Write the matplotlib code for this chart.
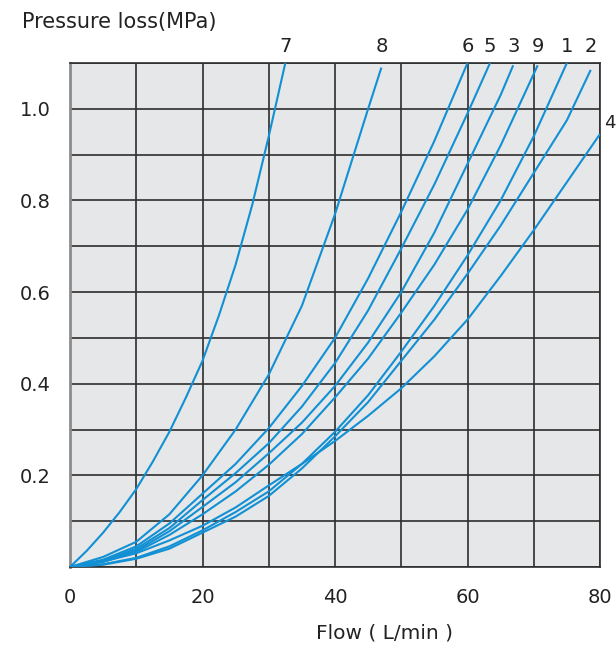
import matplotlib
matplotlib.use("Agg")
import matplotlib.pyplot as plt

# flow (L/min) and pressure loss (MPa), one pair per curve
flow_7 = [0, 2.5, 5, 7.5, 10, 12.5, 15, 17.5, 20, 22.5, 25, 27.5, 30, 32.5]
loss_7 = [0, 0.035, 0.075, 0.12, 0.17, 0.23, 0.295, 0.37, 0.45, 0.55, 0.66, 0.79, 0.94, 1.1]

flow_8 = [0, 5, 10, 15, 20, 25, 30, 32.5, 35, 37.5, 40, 42.5, 45, 47]
loss_8 = [0, 0.022, 0.055, 0.115, 0.2, 0.3, 0.42, 0.495, 0.57, 0.67, 0.77, 0.885, 1.0, 1.09]

flow_6 = [0, 5, 10, 15, 20, 25, 30, 35, 40, 45, 50, 55, 60]
loss_6 = [0, 0.016, 0.045, 0.095, 0.16, 0.225, 0.303, 0.395, 0.5, 0.63, 0.775, 0.93, 1.1]

flow_5 = [0, 5, 10, 15, 20, 25, 30, 35, 40, 45, 50, 55, 60, 63.4]
loss_5 = [0, 0.014, 0.04, 0.085, 0.146, 0.205, 0.27, 0.35, 0.445, 0.56, 0.695, 0.835, 0.99, 1.1]

flow_3 = [0, 5, 10, 15, 20, 25, 30, 35, 40, 45, 50, 55, 60, 65, 66.9]
loss_3 = [0, 0.012, 0.036, 0.078, 0.131, 0.185, 0.248, 0.315, 0.395, 0.49, 0.6, 0.73, 0.88, 1.03, 1.095]

flow_9 = [0, 5, 10, 15, 20, 25, 30, 35, 40, 45, 50, 55, 60, 65, 70.6]
loss_9 = [0, 0.011, 0.033, 0.07, 0.115, 0.165, 0.223, 0.29, 0.37, 0.455, 0.555, 0.66, 0.78, 0.92, 1.095]

flow_1 = [0, 5, 10, 15, 20, 25, 30, 35, 40, 45, 50, 55, 60, 65, 70, 75]
loss_1 = [0, 0.006, 0.02, 0.045, 0.08, 0.12, 0.165, 0.225, 0.295, 0.375, 0.47, 0.57, 0.68, 0.8, 0.94, 1.1]

flow_2 = [0, 5, 10, 15, 20, 25, 30, 35, 40, 45, 50, 55, 60, 65, 70, 75, 78.6]
loss_2 = [0, 0.005, 0.018, 0.04, 0.075, 0.11, 0.155, 0.215, 0.285, 0.36, 0.45, 0.54, 0.64, 0.745, 0.86, 0.975, 1.085]

flow_4 = [0, 5, 10, 15, 20, 25, 30, 35, 40, 45, 50, 55, 60, 65, 70, 75, 80]
loss_4 = [0, 0.012, 0.03, 0.058, 0.09, 0.13, 0.178, 0.225, 0.275, 0.33, 0.39, 0.46, 0.54, 0.635, 0.735, 0.84, 0.945]

curves = [("7", flow_7, loss_7), ("8", flow_8, loss_8), ("6", flow_6, loss_6),
          ("5", flow_5, loss_5), ("3", flow_3, loss_3), ("9", flow_9, loss_9),
          ("1", flow_1, loss_1), ("2", flow_2, loss_2), ("4", flow_4, loss_4)]

x_ticks = [0, 10, 20, 30, 40, 50, 60, 70, 80]
x_labels = ["0", "", "20", "", "40", "", "60", "", "80"]
y_ticks = [0, 0.1, 0.2, 0.3, 0.4, 0.5, 0.6, 0.7, 0.8, 0.9, 1.0, 1.1]
y_labels = ["", "", "0.2", "", "0.4", "", "0.6", "", "0.8", "", "1.0", ""]

plt.rcParams["font.family"] = "DejaVu Sans"
plt.rcParams["font.size"] = 14

line_color = "#1190d4"
grid_color = "#2e2e2e"
text_color = "#222222"

fig = plt.figure(figsize=(6.16, 6.48), dpi=100)
ax = fig.add_axes([70 / 616, 81 / 648, 530 / 616, 504 / 648])
ax.set_facecolor("#e6e7e9")

for name, xs, ys in curves:
    ax.plot(xs, ys, color=line_color, lw=1.5, solid_capstyle="butt",
            solid_joinstyle="round", zorder=3)
    if name == "4":
        ax.text(xs[-1] + 0.6, ys[-1] + 0.025, name, ha="left", va="center",
                fontsize=13, color=text_color, clip_on=False)
    else:
        ax.text(xs[-1], 1.135, name, ha="center", va="center",
                fontsize=14, color=text_color, clip_on=False)

ax.set_xlim(0, 80)
ax.set_ylim(0, 1.1)
ax.set_xticks(x_ticks)
ax.set_xticklabels(x_labels)
ax.set_yticks(y_ticks)
ax.set_yticklabels(y_labels)
ax.tick_params(length=0, colors=text_color)
ax.tick_params(axis="x", pad=15)
ax.tick_params(axis="y", pad=14)

ax.grid(True, color=grid_color, lw=1.2, zorder=1)
ax.set_axisbelow(True)
for side in ["top", "right", "bottom"]:
    ax.spines[side].set_color(grid_color)
    ax.spines[side].set_linewidth(1.2)
ax.spines["left"].set_color("#8c8c8c")
ax.spines["left"].set_linewidth(2)

fig.text(22 / 616, 1 - 22 / 648, "Pressure loss(MPa)", ha="left", va="center",
         fontsize=15, color=text_color)
fig.text(385 / 616, 1 - 633 / 648, "Flow ( L/min )", ha="center", va="center",
         fontsize=14.5, color=text_color)

plt.savefig("out.png", dpi=100)
